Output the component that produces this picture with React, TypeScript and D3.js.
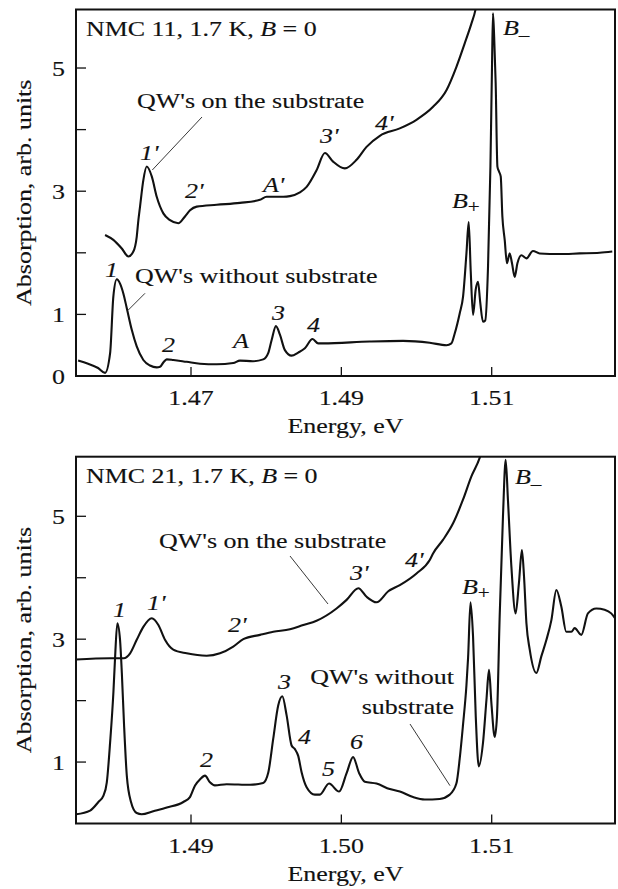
import React from "react";
import * as d3 from "d3";

// ---------- data (energy in eV, absorption in arb. units) ----------
const topWithout: [number, number][] = [
  [1.45498, 0.25], [1.45631, 0.2], [1.45764, 0.13], [1.45857, 0.05], [1.45924, 0.37],
  [1.45967, 1.29], [1.46013, 1.57], [1.46056, 1.5], [1.461, 1.34], [1.46146, 1.1],
  [1.46212, 0.75], [1.46278, 0.48], [1.46366, 0.26], [1.46455, 0.17], [1.46544, 0.14],
  [1.46588, 0.15], [1.46632, 0.22], [1.46677, 0.27], [1.46765, 0.26], [1.46943, 0.23],
  [1.4712, 0.2], [1.47342, 0.19], [1.47562, 0.21], [1.47651, 0.25], [1.47824, 0.24],
  [1.47961, 0.27], [1.48027, 0.37], [1.48072, 0.58], [1.4813, 0.81], [1.48183, 0.67],
  [1.48249, 0.42], [1.48338, 0.33], [1.48426, 0.38], [1.48515, 0.45], [1.48617, 0.6],
  [1.48692, 0.53], [1.48758, 0.53], [1.49379, 0.56], [1.49821, 0.57], [1.50176, 0.54],
  [1.50398, 0.5], [1.50464, 0.53], [1.50508, 0.69], [1.50575, 1.02], [1.50619, 1.29],
  [1.50664, 1.99], [1.50694, 2.5], [1.50721, 1.7], [1.50752, 0.99], [1.50787, 1.4],
  [1.50818, 1.53], [1.50847, 1.2], [1.50884, 0.88], [1.50914, 0.9], [1.50951, 1.77],
  [1.50983, 3.4], [1.51004, 5.02], [1.51017, 5.89], [1.51033, 5.5], [1.51053, 4.75],
  [1.51076, 3.4], [1.51097, 3.32], [1.5112, 3.24], [1.51142, 2.59], [1.51173, 2.21],
  [1.51203, 1.83], [1.51239, 1.99], [1.5127, 1.83], [1.51306, 1.61], [1.51342, 1.83],
  [1.51395, 1.96], [1.51462, 1.91], [1.51549, 2.03], [1.51638, 1.99], [1.51904, 1.98],
  [1.52169, 1.99], [1.52435, 2.0], [1.52604, 2.02],
];

const topOn: [number, number][] = [
  [1.45857, 2.29], [1.45967, 2.21], [1.46079, 2.07], [1.46167, 1.94], [1.46233, 2.02],
  [1.46278, 2.26], [1.463, 2.53], [1.46322, 2.75], [1.46366, 3.18], [1.46411, 3.4],
  [1.46478, 3.24], [1.46544, 2.91], [1.46632, 2.64], [1.46721, 2.53], [1.46831, 2.48],
  [1.4692, 2.59], [1.46987, 2.69], [1.47076, 2.75], [1.47342, 2.78], [1.47651, 2.81],
  [1.47917, 2.86], [1.48006, 2.91], [1.48227, 2.91], [1.48316, 2.92], [1.48449, 2.98],
  [1.48538, 3.07], [1.4867, 3.34], [1.48781, 3.62], [1.48891, 3.48], [1.49047, 3.37],
  [1.49202, 3.51], [1.49335, 3.72], [1.49512, 3.9], [1.49777, 4.02], [1.49999, 4.16],
  [1.5022, 4.37], [1.50398, 4.64], [1.50531, 5.02], [1.50641, 5.4], [1.5073, 5.72],
  [1.50783, 5.94], [1.5082, 6.2],
];

const bottomWithout: [number, number][] = [
  [1.48236, 0.15], [1.48329, 0.21], [1.48384, 0.35], [1.48417, 0.45], [1.4844, 0.67],
  [1.48462, 1.32], [1.48484, 2.14], [1.48495, 2.7], [1.4851, 3.26], [1.48528, 2.99],
  [1.4854, 2.45], [1.48555, 1.59], [1.48573, 0.78], [1.48601, 0.35], [1.48639, 0.17],
  [1.48672, 0.15], [1.48749, 0.2], [1.48839, 0.26], [1.48949, 0.35], [1.48993, 0.43],
  [1.49027, 0.62], [1.4906, 0.72], [1.49093, 0.78], [1.49126, 0.67], [1.49159, 0.62],
  [1.49237, 0.64], [1.49392, 0.63], [1.4948, 0.66], [1.49514, 0.83], [1.49547, 1.38],
  [1.4958, 1.92], [1.49607, 2.07], [1.49636, 1.76], [1.49669, 1.27], [1.49691, 1.21],
  [1.49713, 1.1], [1.49736, 0.83], [1.49769, 0.59], [1.49824, 0.47], [1.49857, 0.47],
  [1.49918, 0.65], [1.49985, 0.52], [1.50035, 0.82], [1.50078, 1.08], [1.50118, 0.82],
  [1.50156, 0.68], [1.50234, 0.65], [1.50322, 0.56], [1.50389, 0.52], [1.50477, 0.43],
  [1.50555, 0.39], [1.50654, 0.4], [1.50721, 0.47], [1.50765, 0.65], [1.50787, 1.05],
  [1.50809, 1.6], [1.50832, 2.25], [1.50843, 2.7], [1.50859, 3.6], [1.50876, 3.04],
  [1.50894, 1.74], [1.50914, 0.93], [1.50942, 1.31], [1.50965, 2.01], [1.50982, 2.5],
  [1.50998, 1.96], [1.5102, 1.41], [1.51035, 1.74], [1.51053, 3.37], [1.51075, 5.0],
  [1.51093, 5.92], [1.51108, 5.27], [1.51131, 4.18], [1.51159, 3.42], [1.51181, 3.91],
  [1.51201, 4.45], [1.51215, 4.02], [1.51231, 3.26], [1.51253, 2.83], [1.51297, 2.45],
  [1.5133, 2.72], [1.51364, 2.99], [1.51397, 3.31], [1.5143, 3.8], [1.51463, 3.53],
  [1.51496, 3.12], [1.5153, 3.12], [1.51552, 3.18], [1.51596, 3.07], [1.5164, 3.42],
  [1.51696, 3.5], [1.51751, 3.48], [1.51795, 3.42], [1.51829, 3.31],
];

const bottomOn: [number, number][] = [
  [1.48236, 2.67], [1.48462, 2.69], [1.48553, 2.69], [1.48595, 2.77], [1.48639, 2.99],
  [1.48683, 3.2], [1.48739, 3.34], [1.48783, 3.23], [1.48827, 2.99], [1.48882, 2.83],
  [1.48971, 2.77], [1.49104, 2.73], [1.49193, 2.77], [1.49281, 2.88], [1.49348, 3.0],
  [1.49459, 3.07], [1.49547, 3.12], [1.49658, 3.16], [1.49747, 3.23], [1.49835, 3.3],
  [1.49968, 3.5], [1.50035, 3.64], [1.50113, 3.83], [1.50168, 3.69], [1.50234, 3.6],
  [1.50312, 3.78], [1.50389, 3.88], [1.505, 4.07], [1.50588, 4.29], [1.50611, 4.4],
  [1.50677, 4.62], [1.50744, 4.89], [1.50809, 5.27], [1.50865, 5.65], [1.5092, 5.95],
  [1.5096, 6.3],
];

const topXTicks = [1.47, 1.49, 1.51];
const topXTickLabels = ["1.47", "1.49", "1.51"];
const bottomXTicks = [1.49, 1.5, 1.51];
const bottomXTickLabels = ["1.49", "1.50", "1.51"];
const topYTicks = [0, 1, 2, 3, 4, 5];
const topYTickLabels = ["0", "1", "", "3", "", "5"];
const bottomYTicks = [1, 2, 3, 4, 5];
const bottomYTickLabels = ["1", "", "3", "", "5"];

const xTitle = "Energy, eV";
const yTitle = "Absorption, arb. units";

// ---------- layout ----------
const W = 618;
const H = 889;
const FONT = "'Liberation Serif', 'Times New Roman', serif";
const FS = 22;
const SX = 1.18;
const LEFT = 76;
const RIGHT = 615;

type Ann = { x: number; y: number; t: string; italic?: boolean; sub?: string; anchor?: string };

function T({ x, y, children, italic, anchor = "start", rotate = false, size = FS }: any) {
  return (
    <text
      transform={`translate(${x},${y})${rotate ? " rotate(-90)" : ""} scale(${SX},1)`}
      textAnchor={anchor}
      fontFamily={FONT}
      fontSize={size}
      fontStyle={italic ? "italic" : "normal"}
      fill="#111"
      stroke="#111"
      strokeWidth={0.15}
    >
      {children}
    </text>
  );
}

function Label({ a }: { a: Ann }) {
  if (a.sub) {
    return (
      <T x={a.x} y={a.y} italic>
        {a.t}
        <tspan fontStyle="normal" fontSize={18} dy={a.sub === "+" ? 5 : 6}>
          {a.sub === "+" ? "+" : "\u2013"}
        </tspan>
      </T>
    );
  }
  return (
    <T x={a.x} y={a.y} italic={a.italic} anchor={a.anchor}>
      {a.t}
    </T>
  );
}

function Panel(props: {
  id: string;
  top: number;
  bottom: number;
  xDomain: [number, number];
  yMax: number;
  xTicks: number[];
  xTickLabels: string[];
  yTicks: number[];
  yTickLabels: string[];
  series: [number, number][][];
  labels: Ann[];
  leaders: [number, number, number, number][];
}) {
  const { id, top, bottom } = props;
  const x = d3.scaleLinear().domain(props.xDomain).range([LEFT, RIGHT]);
  const y = d3.scaleLinear().domain([0, props.yMax]).range([bottom, top]);
  const line = d3
    .line<[number, number]>()
    .x((d) => x(d[0]))
    .y((d) => y(d[1]))
    .curve(d3.curveMonotoneX);
  const cy = (top + bottom) / 2;
  return (
    <g>
      <defs>
        <clipPath id={id}>
          <rect x={LEFT} y={top} width={RIGHT - LEFT} height={bottom - top} />
        </clipPath>
      </defs>
      <g clipPath={`url(#${id})`}>
        {props.series.map((s, i) => (
          <path key={i} d={line(s) || ""} fill="none" stroke="#111" strokeWidth={2.1} strokeLinejoin="round" />
        ))}
      </g>
      {props.leaders.map((l, i) => (
        <line key={i} x1={l[0]} y1={l[1]} x2={l[2]} y2={l[3]} stroke="#222" strokeWidth={0.9} />
      ))}
      <rect x={LEFT} y={top} width={RIGHT - LEFT} height={bottom - top} fill="none" stroke="#111" strokeWidth={2} />
      {props.xTicks.map((t, i) => (
        <g key={i}>
          <line x1={x(t)} x2={x(t)} y1={bottom} y2={bottom - 9} stroke="#111" strokeWidth={1.3} />
          <T x={x(t)} y={bottom + 29} anchor="middle">
            {props.xTickLabels[i]}
          </T>
        </g>
      ))}
      {props.yTicks.map((t, i) => (
        <g key={i}>
          <line x1={LEFT} x2={LEFT + 10} y1={y(t)} y2={y(t)} stroke="#111" strokeWidth={1.3} />
          {props.yTickLabels[i] && (
            <T x={65} y={y(t) + 8} anchor="end">
              {props.yTickLabels[i]}
            </T>
          )}
        </g>
      ))}
      <T x={(LEFT + RIGHT) / 2} y={bottom + 57} anchor="middle">
        {xTitle}
      </T>
      <T x={31} y={cy} anchor="middle" rotate>
        {yTitle}
      </T>
      {props.labels.map((a, i) => (
        <Label key={i} a={a} />
      ))}
    </g>
  );
}

const topLabels: Ann[] = [
  { x: 137, y: 108, t: "QW's on the substrate" },
  { x: 140, y: 160, t: "1'", italic: true },
  { x: 185, y: 198, t: "2'", italic: true },
  { x: 263, y: 192, t: "A'", italic: true },
  { x: 320, y: 143, t: "3'", italic: true },
  { x: 375, y: 130, t: "4'", italic: true },
  { x: 503, y: 35, t: "B", sub: "-" },
  { x: 452, y: 208, t: "B", sub: "+" },
  { x: 105, y: 277, t: "1", italic: true },
  { x: 135, y: 283, t: "QW's without substrate" },
  { x: 162, y: 352, t: "2", italic: true },
  { x: 233, y: 348, t: "A", italic: true },
  { x: 272, y: 320, t: "3", italic: true },
  { x: 307, y: 332, t: "4", italic: true },
];

const bottomLabels: Ann[] = [
  { x: 159, y: 548, t: "QW's on the substrate" },
  { x: 113, y: 617, t: "1", italic: true },
  { x: 147, y: 610, t: "1'", italic: true },
  { x: 228, y: 632, t: "2'", italic: true },
  { x: 350, y: 580, t: "3'", italic: true },
  { x: 405, y: 567, t: "4'", italic: true },
  { x: 462, y: 594, t: "B", sub: "+" },
  { x: 515, y: 484, t: "B", sub: "-" },
  { x: 454, y: 684, t: "QW's without", anchor: "end" },
  { x: 454, y: 714, t: "substrate", anchor: "end" },
  { x: 200, y: 767, t: "2", italic: true },
  { x: 278, y: 689, t: "3", italic: true },
  { x: 298, y: 744, t: "4", italic: true },
  { x: 322, y: 776, t: "5", italic: true },
  { x: 350, y: 749, t: "6", italic: true },
];

function Title({ x, y, name }: { x: number; y: number; name: string }) {
  return (
    <T x={x} y={y}>
      {name}, 1.7 K, <tspan fontStyle="italic">B</tspan> = 0
    </T>
  );
}

export default function App() {
  return (
    <svg
      width={W}
      height={H}
      viewBox={`0 0 ${W} ${H}`}
      style={{ position: "absolute", left: 0, top: 0, background: "#fff" }}
    >
      <rect width={W} height={H} fill="#fff" />
      <Panel
        id="clipTop"
        top={9.5}
        bottom={376}
        xDomain={[1.454702, 1.526402]}
        yMax={5.95}
        xTicks={topXTicks}
        xTickLabels={topXTickLabels}
        yTicks={topYTicks}
        yTickLabels={topYTickLabels}
        series={[topWithout, topOn]}
        labels={topLabels}
        leaders={[
          [202, 117, 152.3, 170],
          [145, 293.3, 128.3, 310],
        ]}
      />
      <Title x={86} y={36} name="NMC 11" />
      <Panel
        id="clipBottom"
        top={456.7}
        bottom={823.5}
        xDomain={[1.482351, 1.518201]}
        yMax={5.97}
        xTicks={bottomXTicks}
        xTickLabels={bottomXTickLabels}
        yTicks={bottomYTicks}
        yTickLabels={bottomYTickLabels}
        series={[bottomWithout, bottomOn]}
        labels={bottomLabels}
        leaders={[
          [290, 556, 328, 604],
          [410, 724, 450, 785.7],
        ]}
      />
      <Title x={86} y={483} name="NMC 21" />
    </svg>
  );
}
